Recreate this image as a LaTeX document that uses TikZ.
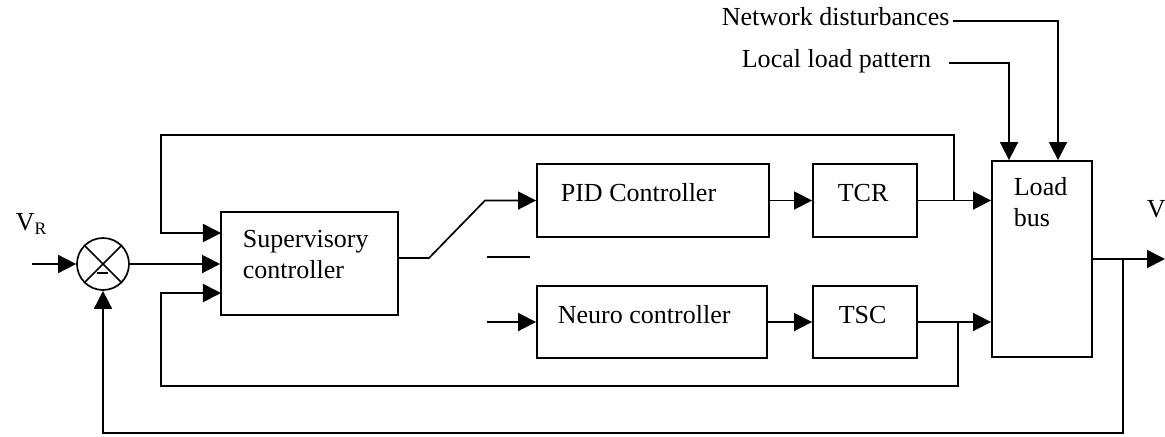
\documentclass[tikz,border=0pt]{standalone}
\usepackage{fontspec}
\setmainfont{Liberation Serif}
\usetikzlibrary{arrows.meta,fit}
\begin{document}
\begin{tikzpicture}[x=0.025cm,y=-0.025cm,
  line width=1.2pt,
  arr/.style={-{Triangle[length=4.5mm,width=4.5mm]}},
  box/.style={draw, line width=1.3pt, inner sep=0pt},
  lbl/.style={font=\fontsize{18.5}{22}\selectfont, inner sep=0pt, anchor=base west, align=left},
]
\useasboundingbox (0,0) rectangle (1165,436);
\clip (0,0) rectangle (1165,436);

% blocks
\node[box, fit={(221,212) (398,315)}] (sup) {};
\node[box, fit={(537,164) (769,237)}] (pid) {};
\node[box, fit={(813,164) (917,237)}] (tcr) {};
\node[box, fit={(537,286) (767,358)}] (neu) {};
\node[box, fit={(813,286) (917,358)}] (tsc) {};
\node[box, fit={(992,161) (1092,357)}] (load) {};
\node[circle, draw, minimum size=1.3cm, inner sep=0pt] (sum) at (103,264) {};

% block texts (base = last line)
\node[lbl] (supt) at (242,278) {Supervisory\\controller};
\node[lbl] (pidt) at (560,201) {PID Controller};
\node[lbl] (tcrt) at (837,201) {TCR};
\node[lbl] (neut) at (557,323) {Neuro controller};
\node[lbl] (tsct) at (838,323) {TSC};
\node[lbl] (loadt) at (1013,226) {Load\\bus};
\node[lbl] (vr) at (15,230) {V\raisebox{-0.35ex}{\fontsize{12.5}{14}\selectfont R}};
\node[lbl] (vo) at (1146,217) {V};
\node[lbl] (nd) at (721,25) {Network disturbances};
\node[lbl] (ll) at (741,67) {Local load pattern};

% summing junction marks
\draw (sum.north west) -- (sum.south east);
\draw (sum.north east) -- (sum.south west);
\coordinate (m1) at (97,273);
\coordinate (m2) at (108,273);
\draw (m1) -- (m2);

% coordinates
\coordinate (vrin) at (32,264);
\coordinate (s1) at (429,258);
\coordinate (s2) at (485,200.5);
\coordinate (sw1) at (487,257);
\coordinate (sw2) at (530,257);
\coordinate (nin) at (487,322);
\coordinate (j1) at (954,200.5);
\coordinate (tl) at (161,135);
\coordinate (sin1) at (221,233);
\coordinate (j2) at (958,322);
\coordinate (bl) at (161,386);
\coordinate (sin3) at (221,293);
\coordinate (j3) at (1123,259);
\coordinate (vout) at (1165,259);
\coordinate (bb) at (103,433);
\coordinate (nd1) at (953,21);
\coordinate (nd2) at (1058,21);
\coordinate (ll1) at (949,63);
\coordinate (ll2) at (1009,63);

% connectors
\draw[arr] (vrin) -- (sum.west);
\draw[arr] (sum.east) -- (sum.east -| sup.west);
\draw[arr] (sup.east |- s1) -- (s1) -- (s2) -- (s2 -| pid.west);
\draw (sw1) -- (sw2);
\draw[arr] (nin) -- (neu.west);
\draw[arr] (pid) -- (tcr);
\draw[arr] (neu) -- (tsc);
\draw[arr] (tcr.east) -- (tcr.east -| load.west);
\draw[arr] (tsc.east) -- (tsc.east -| load.west);
\draw[arr] (j1) |- (tl) |- (sin1);
\draw[arr] (j2) |- (bl) |- (sin3);
\draw[arr] (load.east) -- (vout);
\draw[arr] (j3) |- (bb) -- (sum.south);
\draw[arr] (nd1) -- (nd2) -- (nd2 |- load.north);
\draw[arr] (ll1) -- (ll2) -- (ll2 |- load.north);
\end{tikzpicture}
\end{document}
